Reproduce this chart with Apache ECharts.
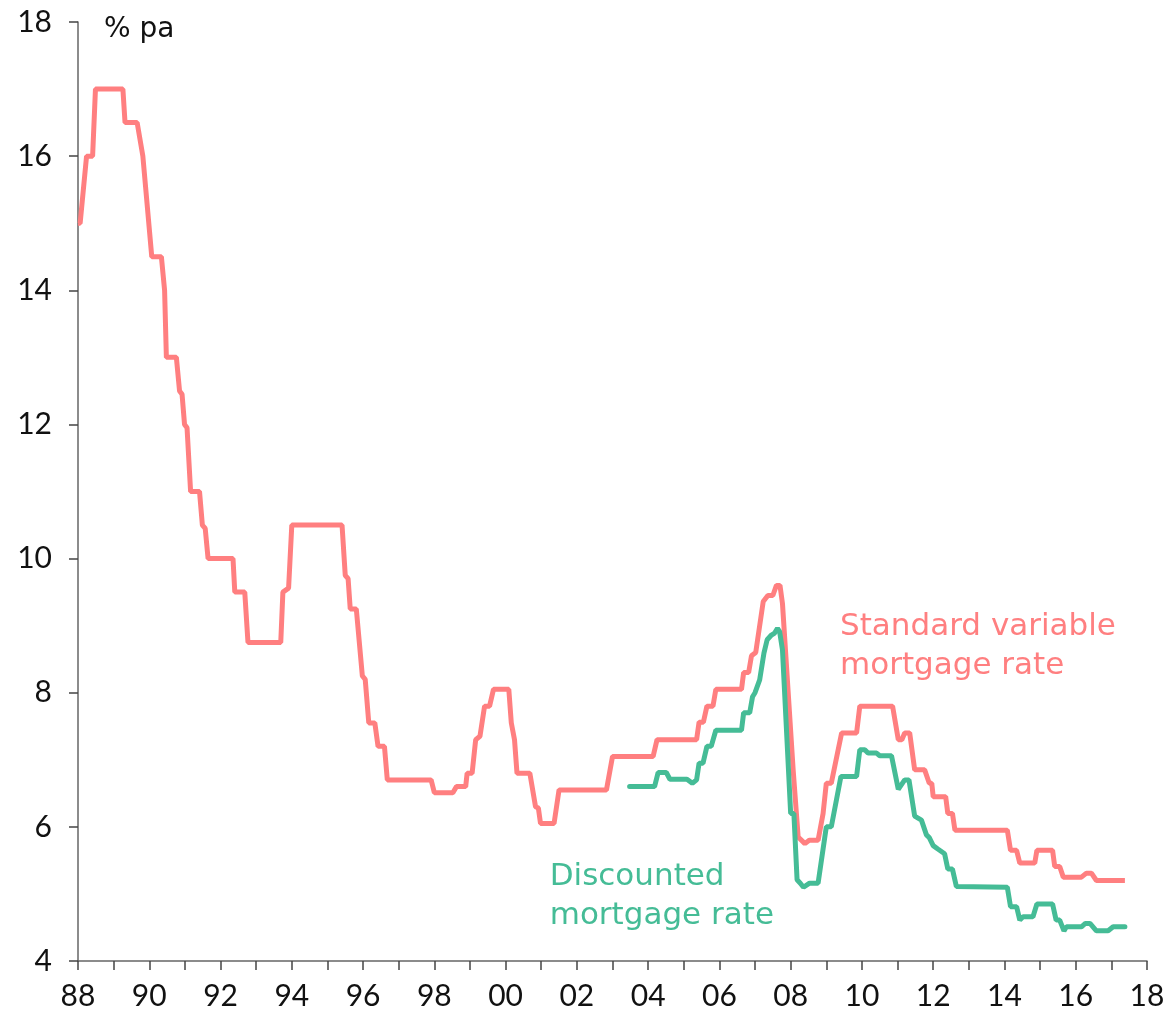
<!DOCTYPE html>
<html>
<head>
<meta charset="utf-8">
<script src="https://cdn.jsdelivr.net/npm/echarts@6/dist/echarts.min.js"></script>
<style>
  html, body { margin: 0; padding: 0; background: #fff; }
  #main { width: 1168px; height: 1018px; }
</style>
</head>
<body>
<div id="main"></div>
<script>
// standard variable mortgage rate (decimal years)
const svrYears = [
  1988.0, 1988.06, 1988.24, 1988.41, 1988.49, 1989.26, 1989.32, 1989.66, 1989.82, 1990.07, 1990.34,
  1990.43, 1990.48, 1990.76, 1990.85, 1990.92, 1990.99, 1991.06, 1991.16, 1991.41, 1991.49,
  1991.57, 1991.65, 1992.35, 1992.4, 1992.68, 1992.77, 1993.69, 1993.75, 1993.91, 1994.0,
  1995.41, 1995.5, 1995.58, 1995.64, 1995.81, 1995.98, 1996.06, 1996.16, 1996.33, 1996.42,
  1996.6, 1996.68, 1997.91, 1998.0, 1998.52, 1998.62, 1998.88, 1998.92, 1999.06, 1999.16,
  1999.28, 1999.41, 1999.55, 1999.66, 2000.09, 2000.16, 2000.25, 2000.32, 2000.68, 2000.84,
  2000.92, 2000.98, 2001.36, 2001.5, 2002.83, 2003.0, 2004.14, 2004.25, 2005.36, 2005.43,
  2005.55, 2005.65, 2005.82, 2005.9, 2006.62, 2006.68, 2006.82, 2006.9, 2007.02, 2007.23,
  2007.36, 2007.5, 2007.6, 2007.7, 2007.77, 2008.07, 2008.12, 2008.21, 2008.4, 2008.52,
  2008.77, 2008.91, 2009.0, 2009.14, 2009.43, 2009.85, 2009.94, 2010.86, 2011.02, 2011.12,
  2011.2, 2011.34, 2011.48, 2011.76, 2011.89, 2011.96, 2012.0, 2012.35, 2012.41, 2012.54,
  2012.61, 2014.08, 2014.17, 2014.34, 2014.43, 2014.85, 2014.91, 2015.35, 2015.41, 2015.55,
  2015.65, 2016.16, 2016.3, 2016.44, 2016.58, 2017.38
];
const svrValues = [
  15.0, 15.0, 16.0, 16.0, 17.0, 17.0, 16.5, 16.5, 16.0, 14.5, 14.5,
  14.0, 13.0, 13.0, 12.5, 12.45, 12.0, 11.95, 11.0, 11.0, 10.5,
  10.45, 10.0, 10.0, 9.5, 9.5, 8.75, 8.75, 9.5, 9.56, 10.5,
  10.5, 9.75, 9.7, 9.25, 9.25, 8.25, 8.2, 7.55, 7.55, 7.2,
  7.2, 6.7, 6.7, 6.51, 6.51, 6.6, 6.6, 6.8, 6.8, 7.3,
  7.35, 7.8, 7.8, 8.05, 8.05, 7.55, 7.3, 6.8, 6.8, 6.3,
  6.28, 6.05, 6.05, 6.55, 6.55, 7.05, 7.05, 7.3, 7.3, 7.56,
  7.56, 7.8, 7.8, 8.05, 8.05, 8.3, 8.3, 8.55, 8.6, 9.36,
  9.45, 9.45, 9.6, 9.6, 9.33, 6.85, 6.85, 5.85, 5.75, 5.8,
  5.8, 6.2, 6.65, 6.65, 7.4, 7.4, 7.8, 7.8, 7.3, 7.3,
  7.4, 7.4, 6.85, 6.85, 6.65, 6.65, 6.45, 6.45, 6.2, 6.2,
  5.95, 5.95, 5.65, 5.65, 5.46, 5.46, 5.65, 5.65, 5.41, 5.41,
  5.25, 5.25, 5.31, 5.31, 5.2, 5.2
];

// discounted mortgage rate
const discYears = [
  2003.48, 2004.18, 2004.28, 2004.51, 2004.61, 2005.09, 2005.24, 2005.36, 2005.43, 2005.54,
  2005.65, 2005.77, 2005.9, 2006.62, 2006.68, 2006.85, 2006.93, 2007.0, 2007.13, 2007.25,
  2007.34, 2007.46, 2007.55, 2007.63, 2007.69, 2007.77, 2008.0, 2008.09, 2008.18, 2008.27,
  2008.36, 2008.53, 2008.77, 2009.0, 2009.14, 2009.41, 2009.85, 2009.94, 2010.08, 2010.17,
  2010.41, 2010.5, 2010.83, 2011.02, 2011.2, 2011.32, 2011.48, 2011.67, 2011.81, 2011.89,
  2012.0, 2012.13, 2012.32, 2012.41, 2012.54, 2012.65, 2014.08, 2014.17, 2014.34, 2014.43,
  2014.52, 2014.8, 2014.91, 2015.35, 2015.45, 2015.55, 2015.67, 2015.74, 2016.16, 2016.27,
  2016.4, 2016.58, 2016.91, 2017.05, 2017.38
];
const discValues = [
  6.6, 6.6, 6.81, 6.81, 6.71, 6.71, 6.65, 6.7, 6.95, 6.95,
  7.2, 7.2, 7.44, 7.44, 7.7, 7.7, 7.94, 8.0, 8.19, 8.59,
  8.79, 8.86, 8.89, 8.96, 8.91, 8.64, 6.2, 6.2, 5.21, 5.16,
  5.1, 5.16, 5.16, 6.0, 6.0, 6.75, 6.75, 7.15, 7.15, 7.1,
  7.1, 7.06, 7.06, 6.56, 6.7, 6.7, 6.16, 6.1, 5.88, 5.84,
  5.72, 5.67, 5.6, 5.37, 5.37, 5.11, 5.1, 4.81, 4.81, 4.61,
  4.66, 4.66, 4.85, 4.85, 4.61, 4.61, 4.45, 4.51, 4.51, 4.56,
  4.56, 4.45, 4.45, 4.51, 4.51
];

const yTicks = [4, 6, 8, 10, 12, 14, 16, 18];

const RED = '#ff7f80';
const GREEN = '#45bc96';
const FONT = 'Lato';
const NOTE_FONT = 'DejaVu Sans';

const chart = echarts.init(document.getElementById('main'));

const zip = (xs, ys) => xs.map((x, i) => [x, ys[i]]);

const option = {
  animation: false,
  backgroundColor: '#fff',
  grid: { left: 78, right: 21, top: 22, bottom: 57 },
  xAxis: {
    type: 'value',
    min: 1988,
    max: 2018,
    interval: 1,
    axisLine: { lineStyle: { color: '#666', width: 1.5 } },
    axisTick: { length: 9, lineStyle: { color: '#444', width: 1.5 } },
    splitLine: { show: false },
    axisLabel: {
      margin: 20,
      color: '#111',
      fontSize: 30,
      fontFamily: FONT,
      showMaxLabel: true,
      formatter: (v) => (v % 2 === 0 ? String(v % 100).padStart(2, '0') : '')
    }
  },
  yAxis: {
    type: 'value',
    min: yTicks[0],
    max: yTicks[yTicks.length - 1],
    interval: 2,
    axisLine: { show: true, lineStyle: { color: '#666', width: 1.5 } },
    axisTick: { show: true, length: 9, lineStyle: { color: '#444', width: 1.5 } },
    splitLine: { show: false },
    axisLabel: {
      margin: 26,
      color: '#111',
      fontSize: 30,
      fontFamily: FONT
    }
  },
  series: [
    {
      name: 'Standard variable mortgage rate',
      type: 'line',
      data: zip(svrYears, svrValues),
      showSymbol: false,
      lineStyle: { color: RED, width: 5 },
      z: 2
    },
    {
      name: 'Discounted mortgage rate',
      type: 'line',
      data: zip(discYears, discValues),
      showSymbol: false,
      lineStyle: { color: GREEN, width: 5, cap: 'round' },
      z: 3
    }
  ],
  graphic: [
    {
      type: 'text', left: 104, top: 16,
      style: { text: '% pa', fontSize: 28, fontFamily: NOTE_FONT, fill: '#111' }
    },
    {
      type: 'text', left: 840, top: 607,
      style: {
        text: 'Standard variable\nmortgage rate', fontSize: 31, lineHeight: 39,
        fontFamily: NOTE_FONT, fill: RED
      }
    },
    {
      type: 'text', right: 394, top: 857,
      style: {
        text: 'Discounted\nmortgage rate', fontSize: 31, lineHeight: 39,
        fontFamily: NOTE_FONT, fill: GREEN, align: 'right'
      }
    }
  ]
};

chart.setOption(option);
</script>
</body>
</html>
